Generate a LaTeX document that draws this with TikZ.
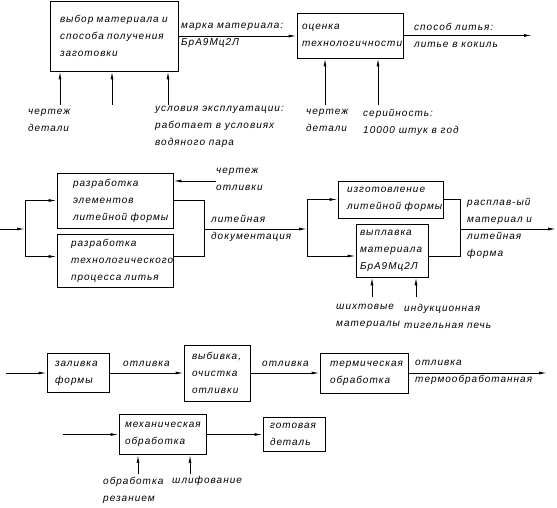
\documentclass[tikz,border=0pt]{standalone}
\usepackage{fontspec}
\setmainfont{Liberation Sans}[LetterSpace=10]
\usepackage{tikz}
\usetikzlibrary{arrows.meta}
\newcommand\lblfont{\itshape\fontsize{10}{17}\selectfont}

\begin{document}
\begin{tikzpicture}[
  x=1pt, y=-1pt,
  blk/.style={draw, line width=0.9pt, align=left, inner ysep=0pt, font=\lblfont},
  lbl/.style={anchor=west, align=left, inner sep=0pt, font=\lblfont},
  ln/.style={line width=0.9pt},
  arr/.style={-{Latex[length=8pt,width=3pt]}, line width=0.9pt}
]
\useasboundingbox (0,0) rectangle (557,508);

% row 1
\node[blk, text width=108pt, inner xsep=10pt, minimum height=70pt] (vybor) at (114,36) {выбор~материала~и\\способа~получения\\заготовки};
\node[blk, text width=96pt, inner xsep=5pt, minimum height=45pt] (ocenka) at (350,35.5) {оценка\\технологичности};
\coordinate (litOut) at (532,35.5);
\draw[arr] (vybor.east) -- (vybor.east -| ocenka.west);
\draw[arr] (ocenka.east) -- (litOut);
\node[lbl] (markaLbl) at (181,35.5) {марка~материала:\\БрА9Мц2Л};
\node[lbl] (sposobLbl) at (414,35) {способ~литья:\\литье~в~кокиль};
\coordinate (vIn1) at (60,105);
\coordinate (vIn2) at (112,105);
\coordinate (vIn3) at (168,105);
\draw[arr] (vIn1) -- (vIn1 |- vybor.south);
\draw[arr] (vIn2) -- (vIn2 |- vybor.south);
\draw[arr] (vIn3) -- (vIn3 |- vybor.south);
\node[lbl] (chertLbl1) at (28,120.5) {чертеж\\детали};
\node[lbl] (uslLbl) at (155,127) {условия~эксплуатации:\\работает~в~условиях\\водяного~пара};
\coordinate (oIn1) at (325,105);
\coordinate (oIn2) at (378,105);
\draw[arr] (oIn1) -- (oIn1 |- ocenka.south);
\draw[arr] (oIn2) -- (oIn2 |- ocenka.south);
\node[lbl] (chertLbl2) at (306,120.5) {чертеж\\детали};
\node[lbl] (serLbl) at (363,122) {серийность:\\10000~штук~в~год};

% row 2
\node[blk, text width=84pt, inner xsep=16pt, minimum height=55pt] (razrForm) at (115,200.5) {разработка\\элементов\\литейной~формы};
\node[blk, text width=88pt, inner xsep=14pt, minimum height=53pt] (razrTech) at (115,260.5) {разработка\\технологического\\процесса~литья};
\coordinate (docIn) at (0,229);
\coordinate (docSplit) at (25,229);
\draw[arr] (docIn) -- (docSplit);
\draw[arr] (docSplit) |- (razrForm.west);
\draw[arr] (docSplit) |- ([yshift=4pt]razrTech.west);
\coordinate (otlIn) at (216,181);
\draw[arr] (otlIn) -- (otlIn -| razrForm.east);
\node[lbl] (otlLbl) at (216,179.5) {чертеж\\отливки};
\coordinate (docJoin) at (204,229);
\draw[ln] (razrForm.east) -| (docJoin);
\draw[ln] ([yshift=4pt]razrTech.east) -| (docJoin);
\coordinate (formSplit) at (307,229);
\draw[arr] (docJoin) -- (formSplit);
\node[lbl] (docLbl) at (211,228) {литейная\\документация};

\node[blk, text width=87pt, inner xsep=9pt, minimum height=37pt] (izgot) at (390.5,199.5) {изготовление\\литейной~формы};
\node[blk, text width=64pt, inner xsep=4pt, minimum height=53pt] (vyplav) at (392,250.5) {выплавка\\материала\\БрА9Мц2Л};
\draw[arr] (formSplit) |- (izgot.west);
\draw[arr] (formSplit) |- ([yshift=-5.5pt]vyplav.west);
\coordinate (meltJoin) at (460,229);
\draw[ln] (izgot.east) -| (meltJoin);
\draw[ln] ([yshift=-5.5pt]vyplav.east) -| (meltJoin);
\coordinate (meltOut) at (556,229);
\draw[arr] (meltJoin) -- (meltOut);
\node[lbl] (meltLbl) at (467,228.5) {расплав-ый\\материал~и\\литейная\\форма};
\coordinate (shIn) at (372,297);
\coordinate (indIn) at (416,297);
\draw[arr] (shIn) -- (shIn |- vyplav.south);
\draw[arr] (indIn) -- (indIn |- vyplav.south);
\node[lbl] (shLbl) at (336,316) {шихтовые\\материалы};
\node[lbl] (indLbl) at (404,316) {индукционная\\тигельная~печь};

% row 3
\node[blk, text width=46pt, inner xsep=8pt, minimum height=39pt] (zaliv) at (78,373) {заливка\\формы};
\node[blk, text width=50pt, inner xsep=8pt, minimum height=56pt] (vybiv) at (217,373) {выбивка,\\очистка\\отливки};
\node[blk, text width=68pt, inner xsep=10pt, minimum height=40pt] (term) at (364,373) {термическая\\обработка};
\coordinate (pourIn) at (6,373);
\draw[arr] (pourIn) -- (zaliv.west);
\draw[arr] (zaliv.east) -- (vybiv.west);
\draw[arr] (vybiv.east) -- (term.west);
\coordinate (termOut) at (547,373);
\draw[arr] (term.east) -- (termOut);
\node[lbl] (otl1Lbl) at (123,364) {отливка};
\node[lbl] (otl2Lbl) at (262,364) {отливка};
\node[lbl] (otl3Lbl) at (415,372.5) {отливка\\термообработанная};

% row 4
\node[blk, text width=75pt, inner xsep=6pt, minimum height=40pt] (mekh) at (162.5,434.5) {механическая\\обработка};
\node[blk, text width=48pt, inner xsep=7pt, minimum height=34pt] (gotov) at (294,434.5) {готовая\\деталь};
\coordinate (mechIn) at (63,434.5);
\draw[arr] (mechIn) -- (mekh.west);
\draw[arr] (mekh.east) -- (gotov.west);
\coordinate (rezIn) at (138,474);
\coordinate (shlIn) at (190,474);
\draw[arr] (rezIn) -- (rezIn |- mekh.south);
\draw[arr] (shlIn) -- (shlIn |- mekh.south);
\node[lbl] (rezLbl) at (103,490) {обработка\\резанием};
\node[lbl] (shlLbl) at (172,481) {шлифование};
\end{tikzpicture}
\end{document}
